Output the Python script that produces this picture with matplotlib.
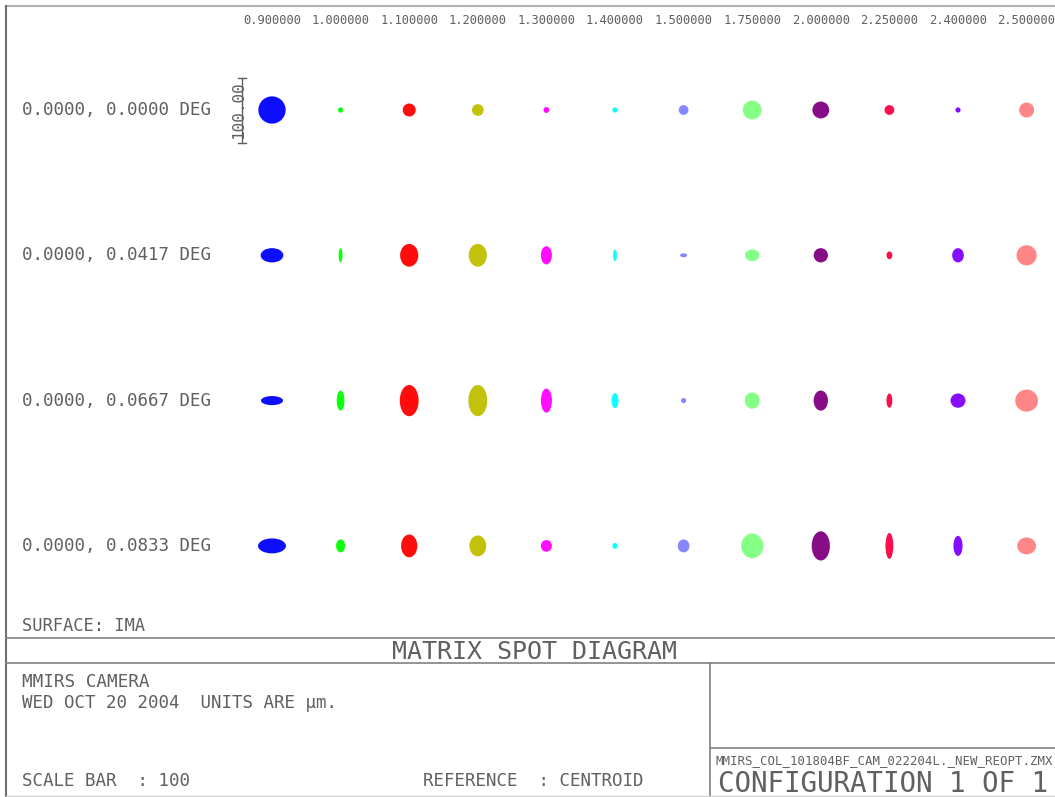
import numpy as np
import matplotlib.pyplot as plt
from matplotlib.collections import EllipseCollection

# Длины волн (мкм) - заголовки столбцов
wavelengths = ["0.900000", "1.000000", "1.100000", "1.200000", "1.300000", "1.400000",
               "1.500000", "1.750000", "2.000000", "2.250000", "2.400000", "2.500000"]

# Поля - подписи строк
fields = ["0.0000, 0.0000 DEG", "0.0000, 0.0417 DEG",
          "0.0000, 0.0667 DEG", "0.0000, 0.0833 DEG"]

# Цвета пятен по длинам волн
spot_colors = ["#0000ff", "#00ff00", "#ff0000", "#bfbf00", "#ff00ff", "#00ffff",
               "#8080ff", "#80ff80", "#800080", "#ff0040", "#8000ff", "#ff8080"]

# Размеры пятен, мкм (ширина и высота), по строкам полей
spot_w_um = [
    [42, 8, 20, 18, 9, 8, 15, 29, 26, 15, 8, 23],
    [35, 6, 28, 28, 17, 6, 11, 22, 22, 9, 18, 31],
    [34, 12, 29, 29, 17, 11, 8, 23, 22, 9, 23, 35],
    [43, 14, 25, 26, 17, 8, 18, 34, 28, 12, 14, 29],
]
spot_h_um = [
    [42, 8, 20, 18, 9, 8, 15, 29, 26, 15, 8, 23],
    [22, 22, 35, 35, 28, 18, 6, 18, 22, 12, 22, 31],
    [14, 31, 48, 48, 37, 23, 8, 25, 31, 22, 22, 34],
    [23, 20, 35, 32, 18, 9, 20, 38, 45, 40, 31, 26],
]

scale_bar_um = 100

# Раскладка в пикселях
W, H = 1055, 797
col_x0, col_step = 272, 68.6
row_y0, row_step = 110, 145.3
px_per_um = 65 / scale_bar_um

text_color = "#606060"
line_color = "#808080"
mono = "DejaVu Sans Mono"

fig = plt.figure(figsize=(W / 100, H / 100), dpi=100)
ax = fig.add_axes([0, 0, 1, 1])
ax.set_xlim(0, W)
ax.set_ylim(H, 0)
ax.axis("off")

# Рамки
ax.plot([6, W], [6, 6], color="#b0b0b0", lw=1.5)
ax.plot([6, 6], [6, H], color="#707070", lw=1.5)
ax.plot([6, W], [638, 638], color=line_color, lw=1.2)
ax.plot([6, W], [663, 663], color=line_color, lw=1.2)
ax.plot([710, 710], [663, H], color=line_color, lw=1.2)
ax.plot([710, W], [748, 748], color=line_color, lw=1.2)
ax.plot([6, W], [H - 1, H - 1], color="#d0d0d0", lw=1)

# Заголовки столбцов
col_x = col_x0 + col_step * np.arange(len(wavelengths))
for x, wl in zip(col_x, wavelengths):
    ax.text(x, 20, wl, ha="center", va="center", fontsize=8.7,
            family=mono, color=text_color)

# Подписи строк
row_y = row_y0 + row_step * np.arange(len(fields))
for y, f in zip(row_y, fields):
    ax.text(22, y, f, ha="left", va="center", fontsize=12.6,
            family=mono, color=text_color)

# Пятна
xx, yy = np.meshgrid(col_x, row_y)
offsets = np.column_stack([xx.ravel(), yy.ravel()])
widths = np.array(spot_w_um).ravel() * px_per_um
heights = np.array(spot_h_um).ravel() * px_per_um
colors = spot_colors * len(fields)
ec = EllipseCollection(widths, heights, np.zeros(len(widths)), units="xy",
                       offsets=offsets, offset_transform=ax.transData,
                       facecolors=colors, edgecolors="none", alpha=0.95)
ax.add_collection(ec)

# Масштабная линейка
bar_x = 242
bar_half = scale_bar_um * px_per_um / 2
ax.plot([bar_x, bar_x], [row_y[0] - bar_half, row_y[0] + bar_half],
        color=text_color, lw=1)
for yb in (row_y[0] - bar_half, row_y[0] + bar_half):
    ax.plot([bar_x - 4, bar_x + 4], [yb, yb], color=text_color, lw=1)
ax.text(bar_x - 3, row_y[0], "100.00", rotation=90, ha="center", va="center",
        fontsize=11.5, family=mono, color=text_color)

# Подписи нижней части
ax.text(22, 626, "SURFACE: IMA", ha="left", va="center", fontsize=12.3,
        family=mono, color=text_color)
ax.text(534, 652, "MATRIX SPOT DIAGRAM", ha="center", va="center", fontsize=18,
        family=mono, color=text_color)
ax.text(22, 682, "MMIRS CAMERA", ha="left", va="center", fontsize=12.7,
        family=mono, color=text_color)
ax.text(22, 703, "WED OCT 20 2004  UNITS ARE \u00b5m.", ha="left", va="center",
        fontsize=12.6, family=mono, color=text_color)
ax.text(22, 781, "SCALE BAR  : " + str(scale_bar_um), ha="left", va="center",
        fontsize=12.6, family=mono, color=text_color)
ax.text(423, 781, "REFERENCE  : CENTROID", ha="left", va="center", fontsize=12.6,
        family=mono, color=text_color)
ax.text(716, 761, "MMIRS_COL_101804BF_CAM_022204L._NEW_REOPT.ZMX", ha="left",
        va="center", fontsize=8.9, family=mono, color=text_color)
ax.text(718, 784, "CONFIGURATION 1 OF 1", ha="left", va="center", fontsize=19.8,
        family=mono, color=text_color)

plt.savefig("out.png", dpi=100)
